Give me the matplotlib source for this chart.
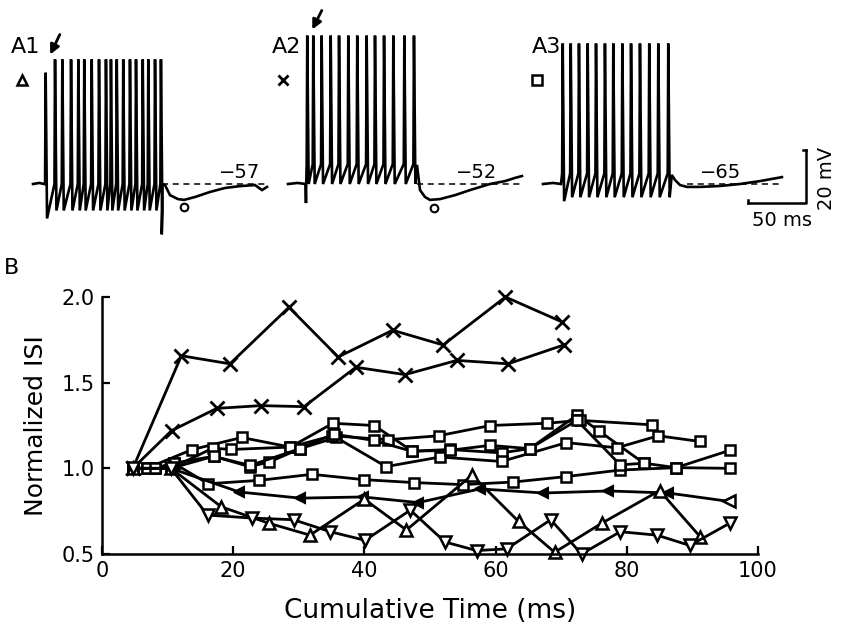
import numpy as np
import matplotlib.pyplot as plt

plt.rcParams['font.family'] = ['DejaVu Sans']

# ---------------- panel A : membrane traces ----------------
# spike times (ms from trace start), post-burst trace (ms, mV rel. to rest)
a1_spikes = [10.9, 19.0, 25.3, 32.8, 39.1, 44.2, 50.6, 56.9, 62.9, 67.2, 72.2,
             77.8, 83.6, 88.8, 94.6, 99.4, 105.2, 110.3]
a1_post_t = [111.0, 111.3, 113.8, 118.1, 125.0, 130.2, 139.7, 152.6, 165.5, 178.4, 191.4, 197.4, 201.7]
a1_post_v = [-19.0, 0.0, -0.4, -4.2, -5.7, -6.0, -4.9, -3.0, -1.5, -0.8, -0.4, -2.3, -1.1]

a2_spikes = [16.6, 21.8, 29.0, 36.8, 44.0, 52.0, 59.7, 67.8, 75.0, 82.8, 90.8, 100.3, 108.6]
a2_post_t = [111.2, 113.8, 118.1, 122.4, 131.0, 144.0, 156.9, 174.1, 187.1, 195.7, 201.7]
a2_post_v = [7.2, -2.3, -4.9, -6.0, -5.7, -4.2, -2.3, 0.0, 1.1, 2.3, 3.0]

a3_spikes = [17.0, 23.9, 31.0, 38.5, 45.7, 53.4, 60.6, 68.4, 75.9, 83.6, 91.6, 99.4, 108.0]
a3_post_t = [111.0, 113.8, 118.1, 124.1, 135.3, 152.6, 169.8, 187.1, 206.0]
a3_post_v = [3.4, 1.5, -0.4, -1.1, -1.1, -0.75, 0.0, 1.1, 2.6]

rest_labels = ['\u221257', '\u221252', '\u221265']
panel_labels = ['A1', 'A2', 'A3']
# spike shape: (level before spike, peak, trough after spike) in mV above rest
shape = [(0.0, 47.0, -10.0), (7.5, 56.0, 0.0), (4.0, 53.0, -5.0)]
scale_ms = 50
scale_mv = 20

# ---------------- panel B : normalized ISI ----------------
x1_x = [4.7, 12.1, 19.5, 28.5, 36.0, 44.3, 52.0, 61.5, 70.1]
x1_y = [1.0, 1.657, 1.61, 1.94, 1.65, 1.806, 1.72, 2.0, 1.855]
x2_x = [4.7, 10.6, 17.5, 24.2, 30.8, 38.7, 46.2, 54.1, 61.9, 70.4]
x2_y = [1.0, 1.22, 1.35, 1.366, 1.36, 1.59, 1.547, 1.63, 1.61, 1.72]

sq1_x = [4.7, 8.1, 10.9, 16.2, 24.0, 32.0, 39.9, 47.5, 55.0, 62.7, 70.8, 79.0, 87.5, 95.7]
sq1_y = [1.0, 1.0, 1.03, 0.91, 0.93, 0.965, 0.934, 0.917, 0.905, 0.92, 0.952, 0.99, 1.004, 1.0]
sq2_x = [4.7, 6.8, 13.7, 21.3, 28.7, 35.2, 41.5, 47.3, 53.0, 60.9, 65.2, 72.4, 75.7, 82.6, 87.5, 95.7]
sq2_y = [1.0, 1.0, 1.109, 1.18, 1.124, 1.263, 1.25, 1.10, 1.11, 1.09, 1.115, 1.31, 1.22, 1.03, 1.004, 1.105]
sq3_x = [4.7, 8.1, 10.9, 17.0, 22.5, 25.5, 30.2, 35.7, 43.3, 51.5, 60.9, 70.8, 78.5, 84.8, 91.1]
sq3_y = [1.0, 1.0, 1.03, 1.07, 1.01, 1.037, 1.115, 1.18, 1.01, 1.066, 1.04, 1.15, 1.12, 1.19, 1.157]
sq4_x = [4.7, 6.8, 10.5, 16.9, 19.6, 28.7, 35.1, 43.6, 51.3, 59.2, 67.8, 72.9, 83.8]
sq4_y = [1.0, 1.0, 1.0, 1.118, 1.11, 1.124, 1.19, 1.167, 1.19, 1.25, 1.263, 1.28, 1.254]
sq5_x = [4.7, 8.1, 10.5, 17.0, 22.6, 30.2, 35.3, 41.4, 47.2, 53.0, 59.1, 65.2, 72.4, 79.0, 82.6]
sq5_y = [1.0, 1.0, 1.0, 1.07, 1.017, 1.115, 1.20, 1.163, 1.10, 1.105, 1.134, 1.115, 1.28, 1.02, 1.03]

lt_x = [4.7, 10.5, 20.9, 30.2, 39.8, 48.2, 57.6, 67.3, 77.2, 86.3, 95.6]
lt_y = [1.0, 1.0, 0.862, 0.826, 0.833, 0.80, 0.88, 0.856, 0.868, 0.856, 0.807]
ut_x = [4.7, 10.5, 18.2, 25.4, 31.7, 40.0, 46.4, 56.4, 63.5, 69.0, 76.2, 85.0, 91.2]
ut_y = [1.0, 1.0, 0.775, 0.68, 0.61, 0.82, 0.64, 0.96, 0.69, 0.51, 0.68, 0.87, 0.60]
dt_x = [4.7, 10.5, 16.1, 22.8, 29.2, 34.8, 40.1, 47.0, 52.3, 57.1, 61.7, 68.4, 73.1, 79.0, 84.6, 89.6, 95.7]
dt_y = [1.0, 1.0, 0.727, 0.71, 0.70, 0.63, 0.58, 0.756, 0.57, 0.52, 0.53, 0.70, 0.50, 0.63, 0.61, 0.55, 0.68]

W, H = 842, 626
fig = plt.figure(figsize=(W / 100, H / 100), dpi=100)

# top axes: 1.16 px per ms, 2.65 px per mV, rest level at 184 px from top
PX_MS = 58 / 50
PX_MV = 53 / 20
BASE = 184
top_h = 250
axa = fig.add_axes([0, 1 - top_h / H, 1, top_h / H])
axa.set_xlim(0, W / PX_MS)
axa.set_ylim(-(top_h - BASE) / PX_MV, BASE / PX_MV)
axa.axis('off')


def px(xp, yp):
    return xp / PX_MS, (BASE - yp) / PX_MV


def build_trace(spikes, pre, peak, trough, post_t, post_v, first_peak=None, onset_dip=None):
    t = [0.0, spikes[0] * 0.5, spikes[0] - 1.5]
    v = [0.0, 0.4, 0.0]
    if onset_dip is not None:
        t += [spikes[0] - 1.1, spikes[0] - 0.9]
        v += [onset_dip, 0.0]
    for i, s in enumerate(spikes):
        pk = first_peak if (i == 0 and first_peak is not None) else peak
        tr = trough * 1.3 if (i == 0 and trough < 0) else trough
        t += [s - 0.5, s, s + 1.2]
        v += [pre, pk, tr]
    t += list(post_t)
    v += list(post_v)
    return np.array(t), np.array(v)


starts = [33 / PX_MS, 288 / PX_MS, 543 / PX_MS]
traces = [
    build_trace(a1_spikes, shape[0][0], shape[0][1], shape[0][2], a1_post_t, a1_post_v, first_peak=42.0),
    build_trace(a2_spikes, shape[1][0], shape[1][1], shape[1][2], a2_post_t, a2_post_v, onset_dip=-7.2),
    build_trace(a3_spikes, shape[2][0], shape[2][1], shape[2][2], a3_post_t, a3_post_v),
]
dash_from = [111.0, 111.0, 124.0]
dash_to = [200.0, 202.0, 206.0]
for k, (t, v) in enumerate(traces):
    axa.plot(starts[k] + t, v, color='black', lw=1.9, solid_joinstyle='miter')
    axa.plot([starts[k] + dash_from[k], starts[k] + dash_to[k]], [0, 0], color='black',
             lw=1.1, ls=(0, (4, 3)))

# undershoot markers (o)
axa.plot(starts[0] + 130.2, -8.7, 'o', ms=5.5, mfc='white', mec='black', mew=1.5)
axa.plot(starts[1] + 125.9, -9.1, 'o', ms=5.5, mfc='white', mec='black', mew=1.5)

# labels
for lab, (xp, yp) in zip(panel_labels, [(26, 47), (287, 47), (547, 47)]):
    axa.text(*px(xp, yp), lab, fontsize=16, ha='center', va='center')
for lab, (xp, yp) in zip(rest_labels, [(240, 173), (477, 173), (721, 172)]):
    axa.text(*px(xp, yp), lab, fontsize=14, ha='center', va='center')
axa.plot(*px(22, 80), marker='^', ms=6.5, mfc='white', mec='black', mew=1.8)
axa.plot(*px(283, 80), marker='x', ms=7.5, color='black', mew=2.0)
axa.plot(*px(537, 80), marker='s', ms=6.5, mfc='white', mec='black', mew=1.8)

for (x0, y0), (x1, y1) in [((61, 32), (49, 57)), ((323, 8), (311, 32))]:
    axa.annotate('', xy=px(x1, y1), xytext=px(x0, y0),
                 arrowprops=dict(arrowstyle='-|>', lw=2.0, color='black', mutation_scale=14))

# scale bar
bx, by = px(806, 203)
axa.plot([bx - scale_ms, bx, bx], [by, by, by + scale_mv], color='black', lw=1.8)
axa.plot([bx - scale_ms, bx - scale_ms], [by, by + 1.3], color='black', lw=1.8)
axa.plot([bx - 2.5, bx], [by + scale_mv, by + scale_mv], color='black', lw=1.8)
axa.text(*px(826, 178), '20 mV', fontsize=14, rotation=90, ha='center', va='center')
axa.text(*px(782, 221), '50 ms', fontsize=14, ha='center', va='center')

fig.text(12 / W, 1 - 268 / H, 'B', fontsize=16, ha='center', va='center')

# ---------------- panel B axes ----------------
axb = fig.add_axes([102 / W, (H - 554) / H, 656 / W, 257 / H])
lw = 2.0
for xs, ys in [(x1_x, x1_y), (x2_x, x2_y)]:
    axb.plot(xs, ys, color='black', lw=lw, marker='x', ms=9.5, mew=2.0, clip_on=False)
for xs, ys in [(sq1_x, sq1_y), (sq2_x, sq2_y), (sq3_x, sq3_y), (sq4_x, sq4_y), (sq5_x, sq5_y)]:
    axb.plot(xs, ys, color='black', lw=lw, marker='s', ms=7.5, mfc='white', mec='black',
             mew=1.8, clip_on=False)
axb.plot(lt_x, lt_y, color='black', lw=lw, marker='<', ms=7.5, mfc='black', mec='black',
         mew=1.5, clip_on=False)
axb.plot(lt_x[-1:], lt_y[-1:], ls='none', marker='<', ms=8.5, mfc='white', mec='black',
         mew=1.8, clip_on=False)
axb.plot(ut_x, ut_y, color='black', lw=lw, marker='^', ms=8.5, mfc='white', mec='black',
         mew=1.8, clip_on=False)
axb.plot(dt_x, dt_y, color='black', lw=lw, marker='v', ms=8.5, mfc='white', mec='black',
         mew=1.8, clip_on=False)

axb.set_xlim(0, 100)
axb.set_ylim(0.5, 2.0)
axb.set_xticks([0, 20, 40, 60, 80, 100])
axb.set_yticks([0.5, 1.0, 1.5, 2.0])
axb.set_yticklabels(['0.5', '1.0', '1.5', '2.0'])
axb.spines['top'].set_visible(False)
axb.spines['right'].set_visible(False)
axb.spines['left'].set_linewidth(1.8)
axb.spines['bottom'].set_linewidth(1.8)
axb.tick_params(direction='in', length=6, width=1.6, labelsize=15, pad=5)
axb.set_xlabel('Cumulative Time (ms)', fontsize=19, labelpad=12)
axb.set_ylabel('Normalized ISI', fontsize=18, labelpad=10)

fig.savefig('out.png', dpi=100)
